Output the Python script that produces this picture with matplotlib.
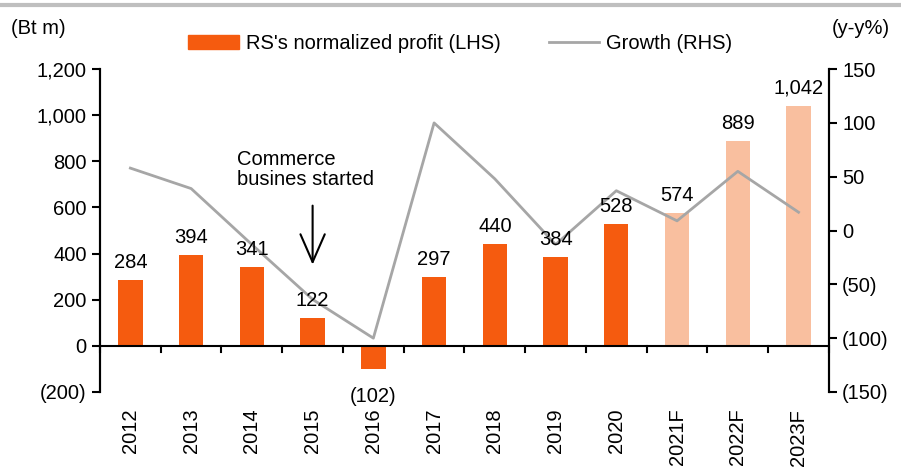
import numpy as np
import matplotlib.pyplot as plt
from matplotlib.lines import Line2D
from matplotlib.patches import Patch

plt.rcParams['font.family'] = ['Liberation Sans', 'DejaVu Sans']

years = ['2012', '2013', '2014', '2015', '2016', '2017', '2018', '2019', '2020', '2021F', '2022F', '2023F']
profit = [284, 394, 341, 122, -102, 297, 440, 384, 528, 574, 889, 1042]
growth = [58, 39, -13, -64, -100, 100, 48, -13, 37, 9, 55, 17]
forecast = [False] * 9 + [True] * 3

ORANGE = '#F55B0F'
LIGHT = '#F9BF9F'
GREY = '#A6A6A6'
FS = 14.5


def paren(v, pos=None):
    s = f'{abs(v):,.0f}'
    return f'({s})' if v < 0 else s


fig = plt.figure(figsize=(9.01, 4.70), dpi=100)
ax = fig.add_axes([0.111, 0.166, 0.809, 0.687])
ax2 = ax.twinx()

x = np.arange(len(years))
colors = [LIGHT if f else ORANGE for f in forecast]
ax.bar(x, profit, width=0.4, color=colors, zorder=2)
ax2.plot(x, growth, color=GREY, lw=2, zorder=2)

# bar labels (drawn on ax2 so they sit above the line)
for xi, v in zip(x, profit):
    if v >= 0:
        ax2.text(xi, v + 35, paren(v), ha='center', va='bottom', fontsize=FS,
                 transform=ax.transData, zorder=5)
    else:
        ax2.text(xi, v - 75, paren(v), ha='center', va='top', fontsize=FS,
                 transform=ax.transData, zorder=5)

ax.set_xlim(-0.5, len(years) - 0.5)
ax.set_ylim(-200, 1200)
ax2.set_ylim(-150, 150)
ax.set_yticks(range(-200, 1201, 200))
ax2.set_yticks(range(-150, 151, 50))
ax.yaxis.set_major_formatter(plt.FuncFormatter(paren))
ax2.yaxis.set_major_formatter(plt.FuncFormatter(paren))

for a in (ax, ax2):
    a.spines['top'].set_visible(False)
    a.spines['bottom'].set_visible(False)
    a.spines['left'].set_linewidth(1.5)
    a.spines['right'].set_linewidth(1.5)
ax.tick_params(axis='y', labelsize=FS, width=1.5, length=6, direction='out')
ax2.tick_params(axis='y', labelsize=FS, width=1.5, length=6, direction='out')

# zero line with category ticks
ax.axhline(0, color='black', lw=1.5, zorder=3)
for b in np.arange(len(years) + 1) - 0.5:
    ax.plot([b, b], [0, -25], color='black', lw=1.5, zorder=3, clip_on=False)

ax.set_xticks(x)
ax.set_xticklabels(years, rotation=90, fontsize=FS)
ax.tick_params(axis='x', length=0, pad=12)

# annotation
ax2.text(1.755, 765, 'Commerce\nbusines started', ha='left', va='center', fontsize=FS,
         linespacing=1.1, transform=ax.transData, zorder=5)
ax2.annotate('', xy=(3.0, 340), xytext=(3.0, 620), xycoords=ax.transData, textcoords=ax.transData,
             arrowprops=dict(arrowstyle='->, head_length=0.8, head_width=0.35', color='black',
                             lw=1.5, mutation_scale=25))

# legend
handles = [Patch(color=ORANGE), Line2D([0], [0], color=GREY, lw=2)]
fig.legend(handles, ["RS's normalized profit (LHS)", 'Growth (RHS)'],
           loc='center', bbox_to_anchor=(0.511, 0.908), ncol=2, frameon=False,
           fontsize=FS, handlelength=2.5, handletextpad=0.35, columnspacing=2.4)

fig.text(0.012, 0.94, '(Bt m)', fontsize=FS, va='center')
fig.text(0.988, 0.94, '(y-y%)', fontsize=FS, va='center', ha='right')
fig.add_artist(Line2D([0, 1], [0.99, 0.99], color='#BFBFBF', lw=3, transform=fig.transFigure))

fig.savefig('out.png', dpi=100)
